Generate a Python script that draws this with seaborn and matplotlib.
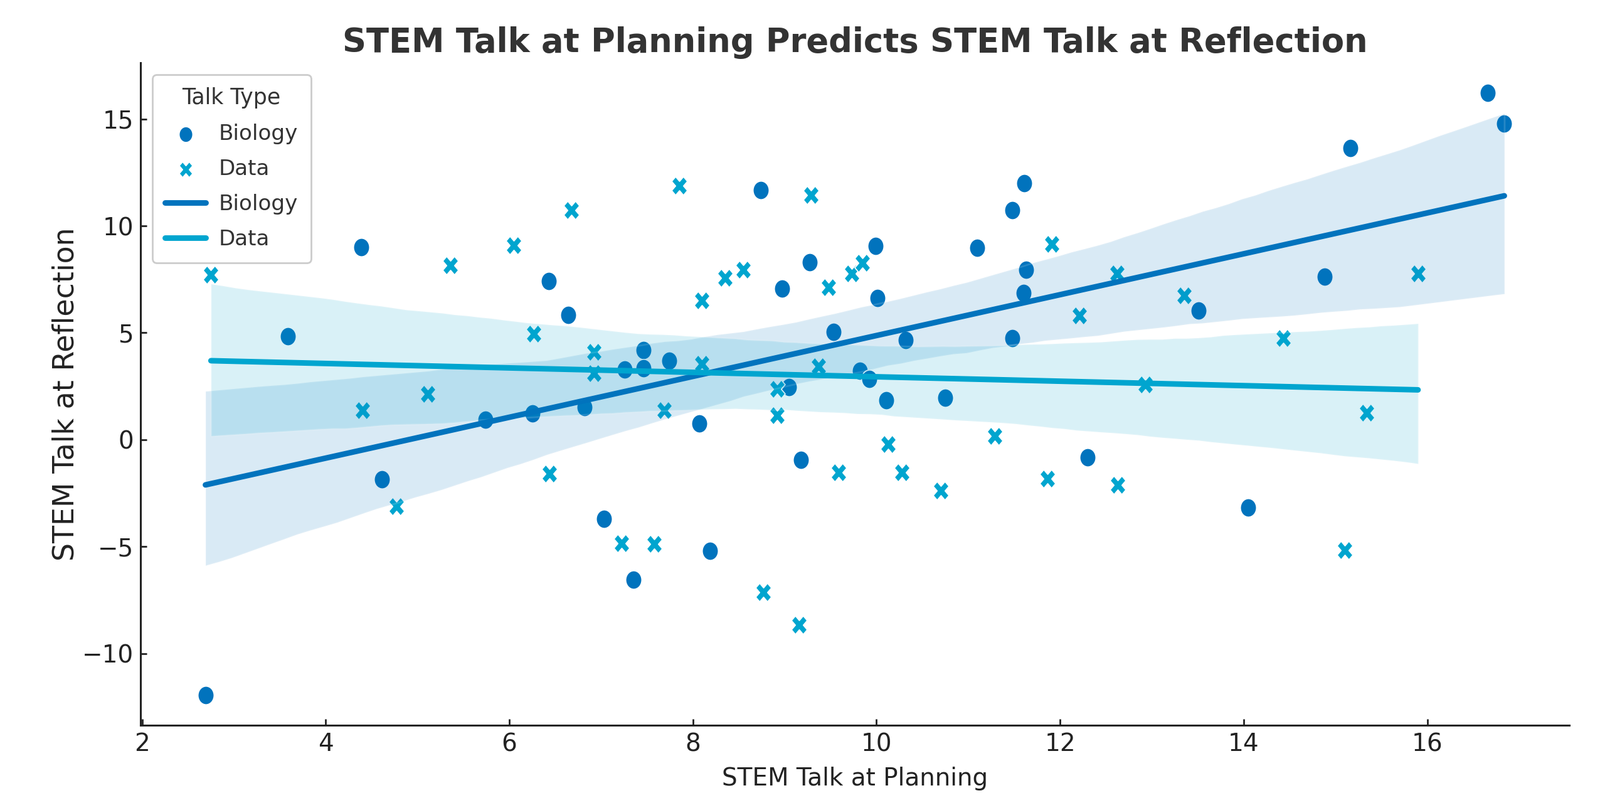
import numpy as np
import pandas as pd
import matplotlib
matplotlib.use("Agg")
import matplotlib.pyplot as plt
from matplotlib.path import Path
from matplotlib.markers import MarkerStyle
import seaborn as sns

# ---- data ----
bio_x = [2.69, 3.59, 4.39, 4.61, 5.74, 6.25, 6.43, 6.64, 6.82, 7.03, 7.26, 7.35, 7.46, 7.46,
         7.74, 8.07, 8.19, 8.74, 8.97, 9.05, 9.18, 9.27, 9.53, 9.82, 9.92, 9.99, 10.01, 10.11,
         10.32, 10.75, 11.10, 11.48, 11.48, 11.60, 11.61, 11.63, 12.30, 13.51, 14.05, 14.88,
         15.16, 16.66, 16.84]
bio_y = [-11.94, 4.85, 9.01, -1.84, 0.95, 1.22, 7.43, 5.85, 1.51, -3.69, 3.28, -6.53, 4.18, 3.33,
         3.70, 0.77, -5.20, 11.68, 7.06, 2.47, -0.93, 8.29, 5.05, 3.23, 2.85, 9.06, 6.62, 1.86,
         4.67, 1.95, 8.96, 10.72, 4.76, 6.86, 12.01, 7.95, -0.81, 6.04, -3.18, 7.63,
         13.63, 16.22, 14.77]

data_x = [2.75, 4.40, 4.77, 5.11, 5.36, 6.05, 6.27, 6.44, 6.68, 6.92, 6.92, 7.22, 7.58, 7.69,
          7.85, 8.10, 8.10, 8.35, 8.55, 8.77, 8.92, 8.92, 9.16, 9.29, 9.37, 9.48, 9.59, 9.73,
          9.85, 10.13, 10.28, 10.70, 11.29, 11.86, 11.91, 12.21, 12.62, 12.63, 12.93, 13.35,
          14.43, 15.10, 15.34, 15.90]
data_y = [7.72, 1.37, -3.11, 2.14, 8.15, 9.10, 4.95, -1.59, 10.72, 4.10, 3.12, -4.85, -4.87, 1.37,
          11.87, 6.52, 3.55, 7.58, 7.96, -7.13, 2.38, 1.14, -8.66, 11.45, 3.42, 7.12, -1.54, 7.76,
          8.28, -0.21, -1.54, -2.38, 0.17, -1.83, 9.14, 5.80, 7.78, -2.11, 2.59, 6.74,
          4.75, -5.15, 1.25, 7.78]

groups = ["Biology", "Data"]
colors = ["#0173BD", "#00A5CF"]

title = "STEM Talk at Planning Predicts STEM Talk at Reflection"
xlabel = "STEM Talk at Planning"
ylabel = "STEM Talk at Reflection"
legend_title = "Talk Type"

df = pd.DataFrame({
    "planning": bio_x + data_x,
    "reflection": bio_y + data_y,
    "Talk Type": ["Biology"] * len(bio_x) + ["Data"] * len(data_x),
})

# slightly narrow markers, as in the reference
def narrow(path, fx):
    return Path(path.vertices * np.array([fx, 1.0]), path.codes)

circ = Path.unit_circle()
ms_x = MarkerStyle("X")
xpath = ms_x.get_path().transformed(ms_x.get_transform())
markers = [narrow(circ, 0.87), narrow(xpath, 0.85)]

sns.set_style("ticks", {"xtick.direction": "in", "ytick.direction": "in"})
plt.rcParams["font.family"] = ["DejaVu Sans"]

fig = plt.figure(figsize=(12.755, 6.32), dpi=200)
ax = fig.add_axes([224 / 2551, 1 - 1156 / 1264, (2502 - 224) / 2551, (1156 - 100) / 1264])

for g, c, m in zip(groups, colors, markers):
    sub = df[df["Talk Type"] == g]
    sns.scatterplot(data=sub, x="planning", y="reflection", color=c, marker=m, s=112,
                    edgecolor="white", linewidth=0.6, label=g, ax=ax)

for g, c in zip(groups, colors):
    sub = df[df["Talk Type"] == g]
    sns.regplot(data=sub, x="planning", y="reflection", scatter=False, color=c, label=g,
                ax=ax, line_kws={"lw": 3.2}, seed=1)

sns.despine(ax=ax)
for s in ["left", "bottom"]:
    ax.spines[s].set_linewidth(1.1)
    ax.spines[s].set_color("#222222")
ax.tick_params(axis="both", direction="in", length=3.5, width=1, color="#222222",
               labelsize=14, labelcolor="#222222", pad=4)
ax.set_xticks([2, 4, 6, 8, 10, 12, 14, 16])
ax.set_yticks([-10, -5, 0, 5, 10, 15])

ax.set_xlabel(xlabel, fontsize=14, color="#222222", labelpad=6)
ax.set_ylabel(ylabel, fontsize=16.5, color="#222222", labelpad=1)
ax.set_title(title, fontsize=19, fontweight="bold", color="#333333", pad=6)

leg = ax.legend(title=legend_title, loc="upper left", fontsize=12.3, title_fontsize=12.5,
                frameon=True, fancybox=True, edgecolor="#cccccc", framealpha=1,
                borderaxespad=0.55, borderpad=0.6, labelspacing=0.68, markerscale=0.85,
                handlelength=1.9, handletextpad=0.6)
for t in leg.get_texts():
    t.set_color("#333333")
leg.get_title().set_color("#333333")

fig.savefig("out.png", dpi=200)
